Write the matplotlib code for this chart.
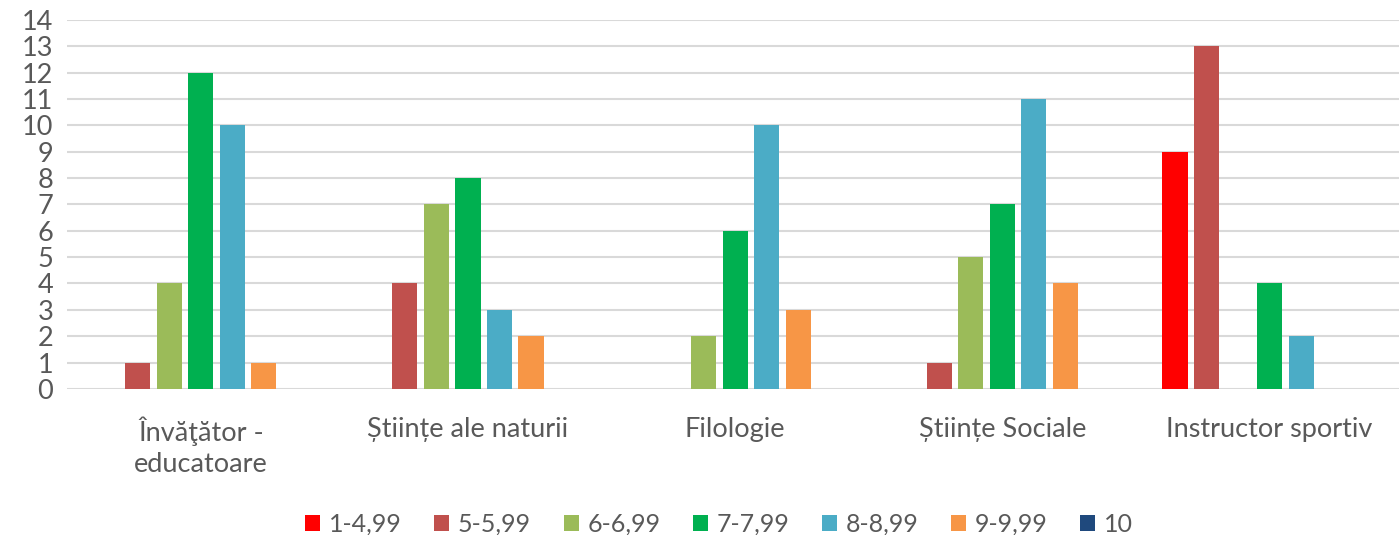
import numpy as np
import matplotlib.pyplot as plt

categories = ["Învăţător -\neducatoare", "Științe ale naturii", "Filologie",
              "Științe Sociale", "Instructor sportiv"]
series = ["1-4,99", "5-5,99", "6-6,99", "7-7,99", "8-8,99", "9-9,99", "10"]
values = [
    [0, 0, 0, 0, 9],      # 1-4,99
    [1, 4, 0, 1, 13],     # 5-5,99
    [4, 7, 2, 5, 0],      # 6-6,99
    [12, 8, 6, 7, 4],     # 7-7,99
    [10, 3, 10, 11, 2],   # 8-8,99
    [1, 2, 3, 4, 0],      # 9-9,99
    [0, 0, 0, 0, 0],      # 10
]
colors = ["#ff0000", "#c0504d", "#9bbb59", "#00b050", "#4bacc6", "#f79646", "#1f497d"]

plt.rcParams['font.family'] = ['Lato', 'DejaVu Sans']
txt = "#595959"
fs = 19.5

fig = plt.figure(figsize=(13.99, 5.35), dpi=100)
ax = fig.add_axes([0.048, 0.273, 0.955, 0.690])

x = np.arange(len(categories))
step = 0.118
width = 0.094
for i, (name, vals) in enumerate(zip(series, values)):
    ax.bar(x + (i - 3) * step, vals, width, color=colors[i], label=name, zorder=3)

ax.set_xlim(-0.5, len(categories) - 0.5)
ax.set_ylim(0, 14)
ax.set_yticks(range(0, 15))
ax.yaxis.grid(True, color="#d9d9d9", linewidth=1.5, zorder=0)
ax.set_axisbelow(True)
for s in ax.spines.values():
    s.set_visible(False)
ax.tick_params(axis='y', length=0, labelsize=fs, labelcolor=txt, pad=10)
ax.tick_params(axis='x', length=0, labelsize=fs, labelcolor=txt, pad=20)
ax.set_xticks(x)
ax.set_xticklabels(categories, linespacing=1.3)

ax.legend(loc="center", bbox_to_anchor=(0.488, -0.367), ncol=7, frameon=False,
          fontsize=18, labelcolor=txt, handlelength=0.6, handleheight=0.6,
          handletextpad=0.35, columnspacing=1.3)

fig.savefig("out.png")
